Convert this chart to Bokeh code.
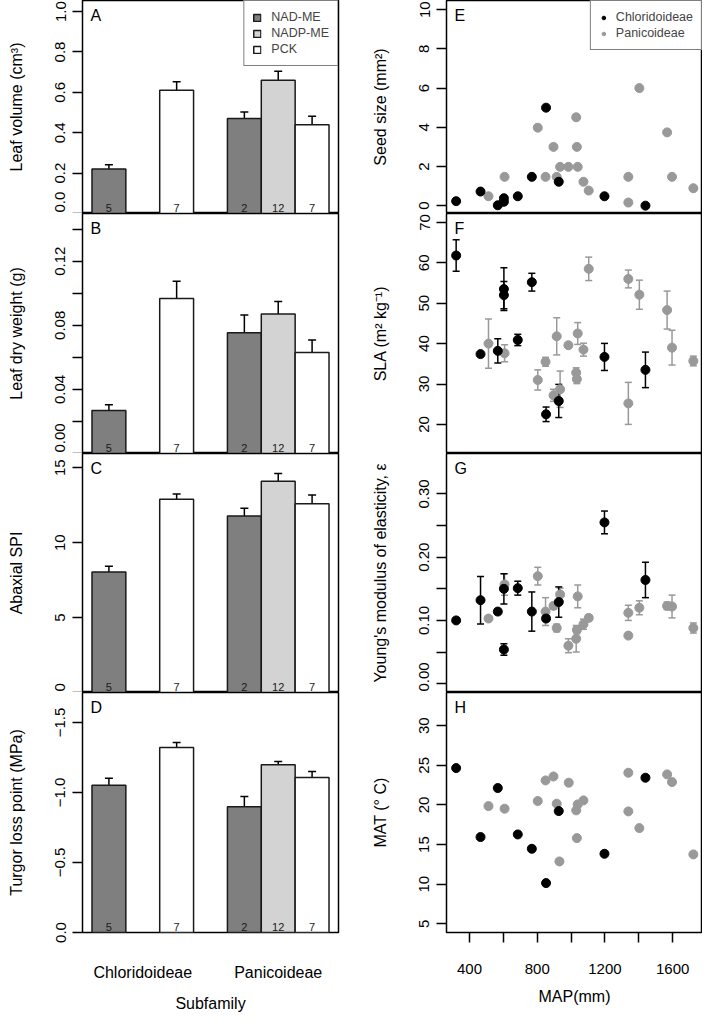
import math
from bokeh.plotting import figure
from bokeh.models import (Range1d, FixedTicker, ColumnDataSource, Whisker, TeeHead,
                          Legend, LegendItem, Label, LinearAxis)
from bokeh.layouts import row, column
from bokeh.embed import file_html
from bokeh.resources import INLINE
from bokeh.core.properties import value

# ---------------- data: bar panels (A-D) ----------------
subfamilies = ["Chloridoideae", "Panicoideae"]
pathways = ["NAD-ME", "NADP-ME", "PCK"]
pathway_colors = ["#7f7f7f", "#d3d3d3", "#ffffff"]
bar_subfamily = [0, 0, 1, 1, 1]
bar_pathway = [0, 2, 0, 1, 2]
bar_n = ["5", "7", "2", "12", "7"]

leaf_volume = [0.22, 0.61, 0.47, 0.66, 0.44]
leaf_volume_se = [0.022, 0.043, 0.033, 0.045, 0.042]
leaf_dw = [0.0269, 0.0967, 0.0754, 0.0871, 0.0631]
leaf_dw_se = [0.0035, 0.0108, 0.011, 0.0078, 0.0078]
spi = [8.04, 12.89, 11.78, 14.09, 12.6]
spi_se = [0.39, 0.35, 0.51, 0.52, 0.58]
tlp = [-1.052, -1.321, -0.898, -1.198, -1.107]
tlp_se = [0.05, 0.036, 0.074, 0.024, 0.042]

lv_ticks = [0.0, 0.2, 0.4, 0.6, 0.8, 1.0]
lv_labels = ["0.0", "0.2", "0.4", "0.6", "0.8", "1.0"]
dw_ticks = [0.0, 0.02, 0.04, 0.06, 0.08, 0.10, 0.12, 0.14]
dw_labels = ["0.00", "", "0.04", "", "0.08", "", "0.12", ""]
spi_ticks = [0, 5, 10, 15]
spi_labels = ["0", "5", "10", "15"]
tlp_ticks = [0.0, -0.5, -1.0, -1.5]
tlp_labels = ["0.0", "\u22120.5", "\u22121.0", "\u22121.5"]

# ---------------- data: MAP scatter panels (E-H) ----------------
chl_map = [321, 465, 567, 603, 603, 685, 768, 852, 927, 1197, 1439]
pan_map = [512, 607, 803, 849, 896, 915, 935, 984, 1030, 1034, 1039, 1073, 1104,
           1338, 1338, 1403, 1567, 1596, 1722]

seed_chl = [0.23, 0.72, 0.02, 0.38, 0.20, 0.48, 1.47, 5.0, 1.22, 0.48, 0.0]
seed_pan = [0.48, 1.47, 3.98, 1.47, 3.0, 1.47, 1.98, 1.98, 4.51, 3.0, 1.98, 1.22, 0.77,
            1.47, 0.16, 6.0, 3.74, 1.47, 0.89]

sla_chl = [61.8, 37.4, 38.2, 53.5, 52.0, 40.9, 55.2, 22.5, 25.8, 36.7, 33.5]
sla_chl_se = [3.9, 0.3, 3.0, 5.3, 3.4, 1.4, 2.2, 1.8, 4.1, 3.35, 4.4]
sla_pan = [40.0, 37.6, 31.0, 35.5, 27.2, 41.8, 28.7, 39.6, 32.8, 31.2, 42.5, 38.5, 58.5,
           56.0, 25.2, 52.1, 48.3, 39.0, 35.7]
sla_pan_se = [6.1, 2.1, 2.5, 1.1, 1.5, 4.6, 4.5, 0.5, 1.2, 1.1, 2.7, 1.6, 2.9,
              2.2, 5.2, 3.6, 4.7, 4.3, 1.2]

ym_chl = [0.100, 0.132, 0.114, 0.150, 0.054, 0.151, 0.114, 0.103, 0.129, 0.255, 0.164]
ym_chl_se = [0.003, 0.0375, 0.004, 0.024, 0.009, 0.011, 0.031, 0.004, 0.024, 0.018, 0.028]
ym_pan = [0.103, 0.157, 0.170, 0.114, 0.123, 0.088, 0.141, 0.060, 0.071, 0.085, 0.138, 0.094,
          0.104, 0.112, 0.076, 0.120, 0.123, 0.122, 0.088]
ym_pan_se = [0.003, 0.017, 0.014, 0.022, 0.005, 0.006, 0.010, 0.011, 0.021, 0.006, 0.018, 0.008,
             0.005, 0.012, 0.004, 0.011, 0.006, 0.018, 0.008]

mat_chl_map = [321, 465, 567, 685, 768, 852, 927, 1197, 1439]
mat_chl = [24.66, 15.95, 22.14, 16.28, 14.47, 10.14, 19.23, 13.84, 23.44]
mat_pan_map = [512, 607, 803, 849, 896, 915, 931, 986, 1030, 1034, 1039, 1073, 1338, 1338,
               1403, 1567, 1596, 1722]
mat_pan = [19.86, 19.53, 20.5, 23.1, 23.6, 20.16, 12.87, 22.81, 19.32, 15.82, 20.07, 20.58,
           24.07, 19.19, 17.08, 23.86, 22.89, 13.76]

seed_ticks = [0, 2, 4, 6, 8, 10]
seed_labels = ["0", "2", "4", "6", "8", "10"]
sla_ticks = [20, 30, 40, 50, 60, 70]
sla_labels = ["20", "30", "40", "50", "60", "70"]
ym_ticks = [0.0, 0.05, 0.10, 0.15, 0.20, 0.25, 0.30]
ym_labels = ["0.00", "", "0.10", "", "0.20", "", "0.30"]
mat_ticks = [5, 10, 15, 20, 25, 30]
mat_labels = ["5", "10", "15", "20", "25", "30"]
map_ticks = [400, 600, 800, 1000, 1200, 1400, 1600]
map_labels = ["400", "", "800", "", "1200", "", "1600"]

groups = ["Chloridoideae", "Panicoideae"]
chl_color = "#000000"
pan_color = "#999999"

# ---------------- layout constants ----------------
FONT = "Liberation Sans"
FW = 256
LB = 82
RB_LEFT = 26
BOT = 78
TICK_OUT = 10
STANDOFF = 7
TITLE_STANDOFF = 28
TICK_FS = 15
TITLE_FS = "16px"

bar_x = [1.5 + 4 * g + k for g, k in zip(bar_subfamily, bar_pathway)]
group_x = [2.5 + 4 * g for g in range(len(subfamilies))]


def text_width(s, fs=TICK_FS):
    w = 0.0
    for ch in s:
        if ch == ".":
            w += 0.278
        elif ch == "\u2212":
            w += 0.584
        else:
            w += 0.556
    return w * fs


def make_fig(xr, yr, fh, right, bottom):
    p = figure(x_range=Range1d(*xr), y_range=Range1d(*yr), frame_width=FW, frame_height=fh,
               min_border_left=LB, min_border_right=right, min_border_top=0,
               min_border_bottom=bottom, output_backend="svg", toolbar_location=None,
               x_axis_location=None, y_axis_location=None)
    p.grid.visible = False
    p.outline_line_color = "black"
    p.outline_line_width = 1.5
    p.outline_line_alpha = 1.0
    p.background_fill_color = "white"
    p.border_fill_color = "white"
    return p


def y_axis(p, ticks, labels, title, shifted):
    # tick marks are drawn as minor ticks; labels sit on (invisible) major ticks,
    # so a label that would straddle a panel boundary can be lifted inside its panel
    major, overrides = [], {}
    for t, l in zip(ticks, labels):
        if not l:
            continue
        pos = shifted.get(t, t)
        major.append(pos)
        overrides[pos] = l
    ax = LinearAxis(ticker=FixedTicker(ticks=major, minor_ticks=list(ticks)),
                    major_label_overrides=overrides, axis_label=title, axis_line_color=None,
                    major_tick_out=TICK_OUT, major_tick_in=0, major_tick_line_color=None,
                    minor_tick_out=TICK_OUT, minor_tick_in=0, minor_tick_line_color="black",
                    minor_tick_line_width=1.5,
                    major_label_orientation="vertical", major_label_standoff=STANDOFF,
                    major_label_text_font=FONT, major_label_text_font_size=f"{TICK_FS}px",
                    major_label_text_color="black",
                    axis_label_standoff=TITLE_STANDOFF, axis_label_text_font=FONT,
                    axis_label_text_font_size=TITLE_FS, axis_label_text_font_style="normal",
                    axis_label_text_color="black")
    p.add_layout(ax, "left")


def x_axis(p, ticks, labels, title, show_ticks, label_fs):
    ax = LinearAxis(ticker=FixedTicker(ticks=list(ticks)),
                    major_label_overrides={t: l for t, l in zip(ticks, labels)},
                    axis_label=title, axis_line_color=None,
                    major_tick_out=TICK_OUT, major_tick_in=0, minor_tick_out=0, minor_tick_in=0,
                    major_tick_line_width=1.5,
                    major_tick_line_color="black" if show_ticks else None,
                    major_label_standoff=21,
                    major_label_text_font=FONT, major_label_text_font_size=label_fs,
                    major_label_text_color="black",
                    axis_label_standoff=11, axis_label_text_font=FONT,
                    axis_label_text_font_size=TITLE_FS, axis_label_text_font_style="normal",
                    axis_label_text_color="black")
    p.add_layout(ax, "below")


def panel_letter(p, letter):
    p.add_layout(Label(x=p.x_range.start, y=p.y_range.end, x_offset=8, y_offset=-6,
                       text=letter, text_align="left", text_baseline="top",
                       text_font=FONT, text_font_size="16px", text_color="black"))


def bar_panel(p, vals, ses):
    rends = []
    for k in range(len(pathways)):
        idx = [i for i in range(len(vals)) if bar_pathway[i] == k]
        src = ColumnDataSource(dict(x=[bar_x[i] for i in idx], top=[vals[i] for i in idx]))
        r = p.vbar(x="x", top="top", bottom=0, width=1, source=src,
                   fill_color=pathway_colors[k], line_color="#1a1a1a", line_width=1.5)
        rends.append(r)
    wsrc = ColumnDataSource(dict(x=bar_x, upper=[v + s for v, s in zip(vals, ses)],
                                 lower=[v - s for v, s in zip(vals, ses)]))
    p.add_layout(Whisker(source=wsrc, base="x", upper="upper", lower="lower",
                         line_color="black", line_width=1.5,
                         upper_head=TeeHead(size=8, line_color="black", line_width=1.5),
                         lower_head=TeeHead(size=8, line_color="black", line_width=1.5)))
    p.text(x=bar_x, y=[0] * len(vals), text=bar_n, text_align="center",
           text_baseline="alphabetic", y_offset=-6, text_font=value(FONT),
           text_font_size="11px", text_color="#1a1a1a")
    return rends


def whiskers(p, xs, ys, ses, color):
    src = ColumnDataSource(dict(x=xs, upper=[v + s for v, s in zip(ys, ses)],
                                lower=[v - s for v, s in zip(ys, ses)]))
    p.add_layout(Whisker(source=src, base="x", upper="upper", lower="lower",
                         line_color=color, line_width=1.5,
                         upper_head=TeeHead(size=7, line_color=color, line_width=1.5),
                         lower_head=TeeHead(size=7, line_color=color, line_width=1.5)))


# ---------------- panel specs ----------------
bar_xr = (0.72, 8.28)
map_xr = (264, 1776)
left_specs = [
    dict(letter="A", vals=leaf_volume, se=leaf_volume_se, yr=(0, 1.055), h=213,
         ticks=lv_ticks, labels=lv_labels, title="Leaf volume (cm\u00b3)"),
    dict(letter="B", vals=leaf_dw, se=leaf_dw_se, yr=(0, 0.1498), h=240,
         ticks=dw_ticks, labels=dw_labels, title="Leaf dry weight (g)"),
    dict(letter="C", vals=spi, se=spi_se, yr=(0, 15.95), h=239,
         ticks=spi_ticks, labels=spi_labels, title="Abaxial SPI"),
    dict(letter="D", vals=tlp, se=tlp_se, yr=(0, -1.714), h=240,
         ticks=tlp_ticks, labels=tlp_labels, title="Turgor loss point (MPa)"),
]
right_specs = [
    dict(letter="E", yr=(-0.4, 10.47), h=213, ticks=seed_ticks, labels=seed_labels,
         title="Seed size (mm\u00b2)"),
    dict(letter="F", yr=(12.8, 72.2), h=240, ticks=sla_ticks, labels=sla_labels,
         title="SLA (m\u00b2 kg\u207b\u00b9)"),
    dict(letter="G", yr=(-0.014, 0.364), h=239, ticks=ym_ticks, labels=ym_labels,
         title="Young's modulus of elasticity, \u03b5"),
    dict(letter="H", yr=(3.9, 34.2), h=240, ticks=mat_ticks, labels=mat_labels,
         title="MAT (\u00b0 C)"),
]

left_figs = [make_fig(bar_xr, s["yr"], s["h"], RB_LEFT, BOT if i == 3 else 0)
             for i, s in enumerate(left_specs)]
right_figs = [make_fig(map_xr, s["yr"], s["h"], 0, BOT if i == 3 else 0)
              for i, s in enumerate(right_specs)]


def setup_axes(figs, specs):
    n = len(specs)
    for i, (f, s) in enumerate(zip(figs, specs)):
        y0, y1 = s["yr"]
        ppu = s["h"] / (y1 - y0)
        shifted = {}
        if i < n - 1:
            for t, l in zip(s["ticks"], s["labels"]):
                if not l:
                    continue
                d = (t - y0) * ppu
                half = text_width(l) / 2 + 1
                if d < half:
                    shifted[t] = y0 + half / ppu
        y_axis(f, s["ticks"], s["labels"], s["title"], shifted)


setup_axes(left_figs, left_specs)
setup_axes(right_figs, right_specs)

# bar panels
for i, (f, s) in enumerate(zip(left_figs, left_specs)):
    rends = bar_panel(f, s["vals"], s["se"])
    panel_letter(f, s["letter"])
    if i == 0:
        f.add_layout(Legend(items=[LegendItem(label=pathways[k], renderers=[rends[k]])
                                   for k in range(len(pathways))],
                            location="top_right", margin=0, padding=8, spacing=0,
                            label_height=16, glyph_height=9, glyph_width=9, label_standoff=10,
                            label_text_font=FONT, label_text_font_size="12.5px",
                            border_line_color="black", border_line_width=1.5,
                            background_fill_color="white", background_fill_alpha=1.0))
x_axis(left_figs[3], group_x, subfamilies, "Subfamily", False, "16px")

# scatter panels
E, F, G, H = right_figs
rp = E.scatter(pan_map, seed_pan, size=9, color=pan_color)
rc = E.scatter(chl_map, seed_chl, size=9, color=chl_color)
E.add_layout(Legend(items=[LegendItem(label=groups[0], renderers=[rc]),
                           LegendItem(label=groups[1], renderers=[rp])],
                    location="top_right", margin=0, padding=8, spacing=0,
                    label_height=16, glyph_height=9, glyph_width=9, label_standoff=8,
                    label_text_font=FONT, label_text_font_size="12.5px",
                    border_line_color="black", border_line_width=1.5,
                    background_fill_color="white", background_fill_alpha=1.0))

F.scatter(pan_map, sla_pan, size=9, color=pan_color)
F.scatter(chl_map, sla_chl, size=9, color=chl_color)
whiskers(F, pan_map, sla_pan, sla_pan_se, pan_color)
whiskers(F, chl_map, sla_chl, sla_chl_se, chl_color)

G.scatter(pan_map, ym_pan, size=9, color=pan_color)
G.scatter(chl_map, ym_chl, size=9, color=chl_color)
whiskers(G, pan_map, ym_pan, ym_pan_se, pan_color)
whiskers(G, chl_map, ym_chl, ym_chl_se, chl_color)

H.scatter(mat_pan_map, mat_pan, size=9, color=pan_color)
H.scatter(mat_chl_map, mat_chl, size=9, color=chl_color)

for f, s in zip(right_figs, right_specs):
    panel_letter(f, s["letter"])
x_axis(H, map_ticks, map_labels, "MAP(mm)", True, "15px")

layout = row(column(*left_figs), column(*right_figs))
open("out.html", "w").write(file_html(layout, INLINE))
